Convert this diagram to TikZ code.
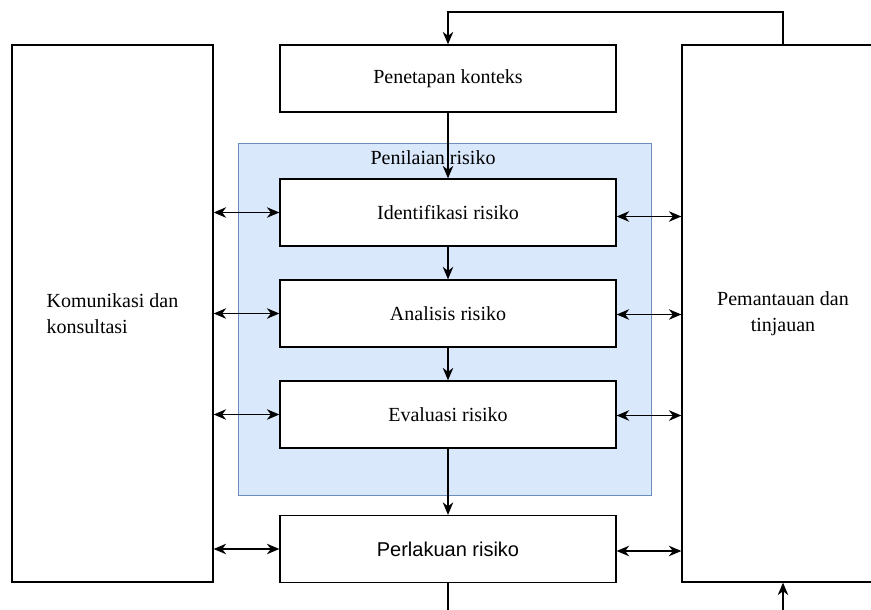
\documentclass[tikz,border=0pt]{standalone}
\usepackage{fontspec}
\setmainfont{Liberation Serif}
\newfontfamily\arialfont{Liberation Sans}
\usetikzlibrary{arrows.meta}
\tikzset{
  box/.style={draw=black, line width=1.3pt, fill=white, rectangle, inner sep=0pt,
    font=\fontsize{20}{26}\selectfont},
  stepbox/.style={box, minimum width=336pt, minimum height=67pt},
  sidebox/.style={box, minimum height=537pt},
  group/.style={draw={rgb,255:red,108;green,142;blue,191}, line width=1pt,
    fill={rgb,255:red,218;green,232;blue,252}, rectangle, inner sep=0pt},
  conn/.style={line width=1.3pt, -{Stealth[length=12.5pt,width=10.5pt,inset=4pt]}},
  dconn/.style={line width=1.3pt, {Stealth[length=12.5pt,width=10.5pt,inset=4pt]}-{Stealth[length=12.5pt,width=10.5pt,inset=4pt]}},
  plain/.style={line width=1.3pt}
}
\begin{document}
\begin{tikzpicture}[x=1pt,y=-1pt]
\useasboundingbox (0,0) rectangle (871,610);
\clip (0,0) rectangle (871,610);
% container
\node[group, minimum width=413pt, minimum height=352pt] (pen) at (444.5,319) {};
\node[font=\fontsize{20}{24}\selectfont, inner sep=0pt] (penlabel) at (433,158) {Penilaian risiko};
% side boxes
\node[sidebox, minimum width=201pt, align=left] (kom) at (112.5,313.5) {Komunikasi dan\\konsultasi};
\node[sidebox, minimum width=202pt, align=center] (pem) at (783,313.5) {Pemantauan dan\\tinjauan};
% steps
\node[stepbox] (ctx) at (448,78.5) {Penetapan konteks};
\node[stepbox] (idn) at (448,212.5) {Identifikasi risiko};
\node[stepbox] (ana) at (448,313.5) {Analisis risiko};
\node[stepbox] (eva) at (448,414.5) {Evaluasi risiko};
\node[stepbox, font=\arialfont\fontsize{20}{26}\selectfont] (per) at (448,549) {Perlakuan risiko};
% vertical flow
\draw[conn] (ctx) -- (idn);
\draw[conn] (idn) -- (ana);
\draw[conn] (ana) -- (eva);
\draw[conn] (eva) -- (per);
% top feedback
\coordinate (topy) at (0,12);
\draw[conn] (pem.north) |- (topy -| ctx.north) -- (ctx.north);
% bottom loose ends
\coordinate (botA) at (448,612);
\coordinate (botB) at (783,612);
\draw[plain] (per.south) -- (botA);
\draw[conn] (botB) -- (pem.south);
% left double arrows
\draw[dconn] (idn.west -| kom.east) -- (idn.west);
\draw[dconn] (ana.west -| kom.east) -- (ana.west);
\draw[dconn] (eva.west -| kom.east) -- (eva.west);
\draw[dconn] (per.west -| kom.east) -- (per.west);
% right double arrows
\draw[dconn] ([yshift=-4pt]idn.east) -- ([yshift=-4pt]idn.east -| pem.west);
\draw[dconn] ([yshift=-1pt]ana.east) -- ([yshift=-1pt]ana.east -| pem.west);
\draw[dconn] ([yshift=-1pt]eva.east) -- ([yshift=-1pt]eva.east -| pem.west);
\draw[dconn] ([yshift=-2pt]per.east) -- ([yshift=-2pt]per.east -| pem.west);
\end{tikzpicture}
\end{document}
